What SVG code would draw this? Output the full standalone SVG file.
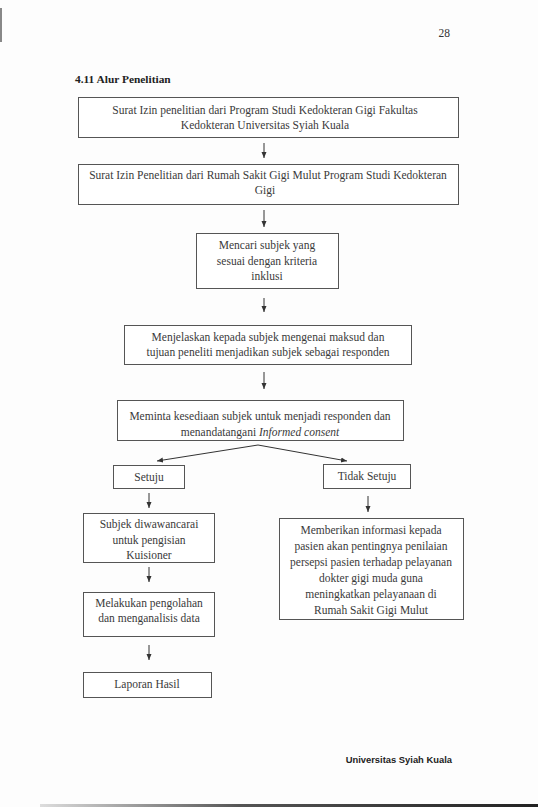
<svg xmlns="http://www.w3.org/2000/svg" width="538" height="807" viewBox="0 0 538 807">
<defs>
<marker id="ah" markerUnits="userSpaceOnUse" markerWidth="8" markerHeight="8" refX="6" refY="3" orient="auto">
<path d="M0,0.5 L6,3 L0,5.5 Z" fill="#333"/>
</marker>
<linearGradient id="bl" x1="0" x2="1" y1="0" y2="0">
<stop offset="0" stop-color="#ddd"/>
<stop offset="0.4" stop-color="#555"/>
<stop offset="1" stop-color="#222"/>
</linearGradient>
</defs>
<style>
.b{fill:#fff;stroke:#555;stroke-width:1}
.t{font-family:"Liberation Serif","Times New Roman",serif;font-size:11.5px;fill:#3a3a3a;text-anchor:middle}
.c{stroke:#333;stroke-width:1;fill:none;marker-end:url(#ah)}
</style>
<rect width="538" height="807" fill="#fdfdfd"/>
<rect x="0" y="8" width="2" height="34" fill="#888"/>
<text x="450" y="37" font-family="Liberation Serif, serif" font-size="11.5" fill="#333" text-anchor="end">28</text>
<text x="75" y="83" font-family="Liberation Serif, serif" font-size="11.4" font-weight="bold" fill="#222">4.11 Alur Penelitian</text>

<g id="n1"><rect class="b" x="78.5" y="97.5" width="380" height="40"/>
<text class="t" x="265" y="114">Surat Izin penelitian dari Program Studi Kedokteran Gigi Fakultas</text>
<text class="t" x="265" y="129">Kedokteran Universitas Syiah Kuala</text></g>

<g id="n2"><rect class="b" x="78.5" y="164.5" width="380" height="40"/>
<text class="t" x="268" y="179">Surat Izin Penelitian dari Rumah Sakit Gigi Mulut Program Studi Kedokteran</text>
<text class="t" x="265" y="194">Gigi</text></g>

<g id="n3"><rect class="b" x="196.5" y="233.5" width="142" height="55"/>
<text class="t" x="267" y="249">Mencari subjek yang</text>
<text class="t" x="267" y="264.5">sesuai dengan kriteria</text>
<text class="t" x="267" y="280">inklusi</text></g>

<g id="n4"><rect class="b" x="124.5" y="325.5" width="287" height="39"/>
<text class="t" x="268" y="341">Menjelaskan kepada subjek mengenai maksud dan</text>
<text class="t" x="268" y="356">tujuan peneliti menjadikan subjek sebagai responden</text></g>

<g id="n5"><rect class="b" x="117.5" y="400.5" width="286" height="40"/>
<text class="t" x="260" y="420">Meminta kesediaan subjek untuk menjadi responden dan</text>
<text class="t" x="260" y="436">menandatangani <tspan font-style="italic">Informed consent</tspan></text></g>

<g id="n6"><rect class="b" x="113.5" y="465.5" width="71" height="23"/>
<text class="t" x="149" y="481">Setuju</text></g>

<g id="n7"><rect class="b" x="323.5" y="464.5" width="87" height="24"/>
<text class="t" x="367" y="480">Tidak Setuju</text></g>

<g id="n8"><rect class="b" x="83.5" y="513.5" width="131" height="49"/>
<text class="t" x="149" y="528">Subjek diwawancarai</text>
<text class="t" x="149" y="544">untuk pengisian</text>
<text class="t" x="149" y="559">Kuisioner</text></g>

<g id="n9"><rect class="b" x="83.5" y="592.5" width="131" height="44"/>
<text class="t" x="149" y="607">Melakukan pengolahan</text>
<text class="t" x="149" y="622">dan menganalisis data</text></g>

<g id="n10"><rect class="b" x="83.5" y="672.5" width="128" height="25"/>
<text class="t" x="147" y="688">Laporan Hasil</text></g>

<g id="n11"><rect class="b" x="279.5" y="518.5" width="184" height="101"/>
<text class="t" x="371" y="534">Memberikan informasi kepada</text>
<text class="t" x="371" y="550">pasien akan pentingnya penilaian</text>
<text class="t" x="371" y="566">persepsi pasien terhadap pelayanan</text>
<text class="t" x="371" y="582">dokter gigi muda guna</text>
<text class="t" x="371" y="598">meningkatkan pelayanaan di</text>
<text class="t" x="371" y="614">Rumah Sakit Gigi Mulut</text></g>

<g id="connectors">
<line class="c" x1="264" y1="143" x2="264" y2="158"/>
<line class="c" x1="264" y1="210" x2="264" y2="227"/>
<line class="c" x1="264" y1="298" x2="264" y2="312"/>
<line class="c" x1="264" y1="372" x2="264" y2="389"/>
<line class="c" x1="258" y1="445" x2="157" y2="461"/>
<line class="c" x1="258" y1="445" x2="347" y2="461"/>
<line class="c" x1="149" y1="493" x2="149" y2="508"/>
<line class="c" x1="368" y1="496" x2="368" y2="512"/>
<line class="c" x1="149" y1="567" x2="149" y2="582"/>
<line class="c" x1="149" y1="645" x2="149" y2="660"/>
</g>

<text x="452" y="763" font-family="Liberation Sans, Arial, sans-serif" font-size="9.4" font-weight="bold" fill="#222" text-anchor="end">Universitas Syiah Kuala</text>
<rect x="40" y="804" width="498" height="3" fill="url(#bl)"/>
</svg>
